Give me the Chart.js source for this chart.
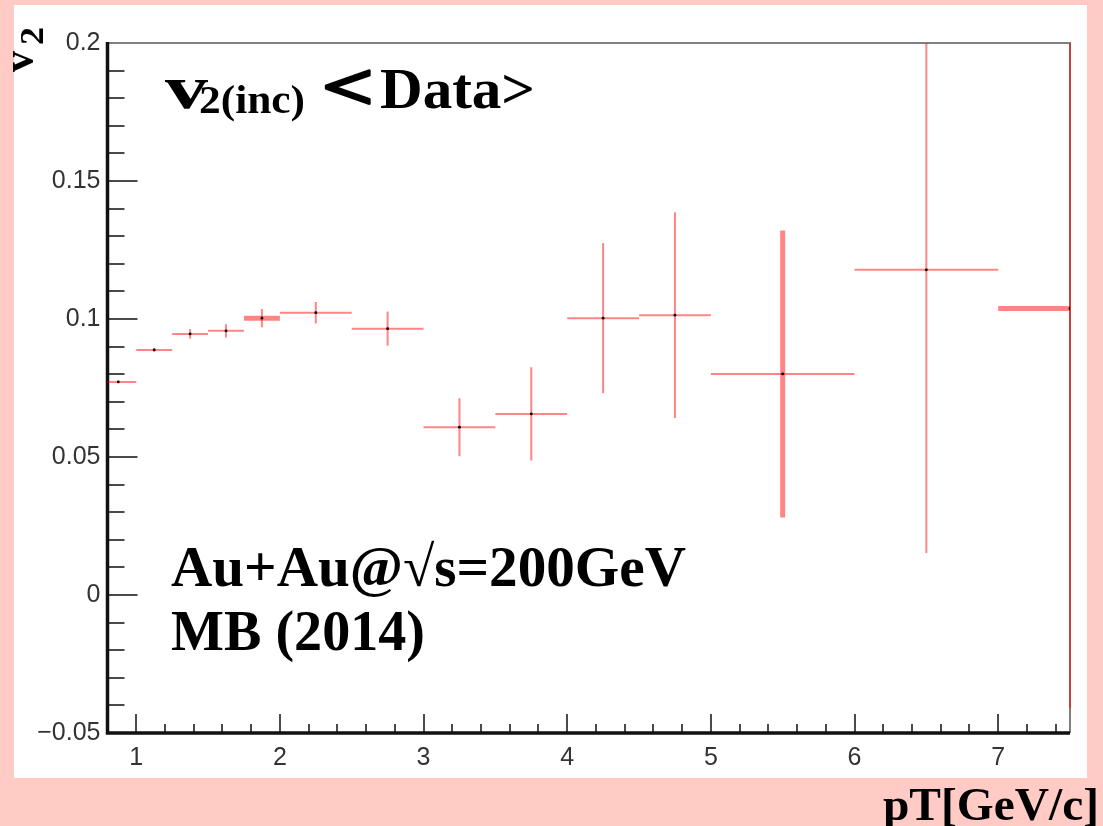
<!DOCTYPE html>
<html><head><meta charset="utf-8">
<script src="https://cdn.jsdelivr.net/npm/chart.js@4.4.1/dist/chart.umd.min.js"></script>
<style>html,body{margin:0;padding:0;background:#ffcbc4;overflow:hidden}canvas{display:block}</style>
</head><body>
<canvas id="c" width="1103" height="826"></canvas>
<script>
// ---- data ----
const ptCenters    = [0.875, 1.125, 1.375, 1.625, 1.875, 2.25, 2.75, 3.25, 3.75, 4.25, 4.75, 5.5, 6.5, 7.5];
const ptHalfWidths = [0.125, 0.125, 0.125, 0.125, 0.125, 0.25, 0.25, 0.25, 0.25, 0.25, 0.25, 0.5, 0.5, 0.5];
const v2Values     = [0.0772, 0.0888, 0.0946, 0.0957, 0.1003, 0.1023, 0.0965, 0.0608, 0.0656, 0.1003, 0.1014, 0.0801, 0.1178, 0.1038];
const v2Errors     = [0.0005, 0.0007, 0.0018, 0.0024, 0.0033, 0.0039, 0.0062, 0.0105, 0.0169, 0.0272, 0.0373, 0.0520, 0.1026, 0.1448];
const xTickLabels  = ['1', '2', '3', '4', '5', '6', '7'];
const yTickLabels  = ['\u22120.05', '0', '0.05', '0.1', '0.15', '0.2'];

// ---- styling (not data) ----
const RED = 'rgba(255,0,0,0.48)';
const thickH = new Set([4, 13]);
const thickV = new Set([11]);
const N = ptCenters.length;

const hData = [], vData = [], cData = [];
ptCenters.forEach((c, i) => {
  hData.push({x: c - ptHalfWidths[i], y: v2Values[i]}, {x: c + ptHalfWidths[i], y: v2Values[i]}, {x: c, y: null});
  cData.push({x: c, y: v2Values[i]});
});
for (let i = N - 1; i >= 0; i--) {
  const c = ptCenters[i];
  vData.push({x: c, y: v2Values[i] - v2Errors[i]}, {x: c, y: v2Values[i] + v2Errors[i]}, {x: c, y: null});
}

function drawFit(ctx, text, x, y, size, width, stroke) {
  ctx.font = 'bold ' + size + 'px "Liberation Serif"';
  const w = ctx.measureText(text).width;
  ctx.save();
  ctx.translate(x, y);
  ctx.scale(width ? width / w : 1, 1);
  ctx.fillText(text, 0, 0);
  if (stroke) { ctx.lineWidth = stroke; ctx.strokeStyle = ctx.fillStyle; ctx.lineJoin = 'round'; ctx.strokeText(text, 0, 0); }
  ctx.restore();
}

const deco = {
  id: 'deco',
  beforeDraw(chart) {
    const ctx = chart.ctx;
    ctx.save();
    ctx.fillStyle = '#ffcbc4';
    ctx.fillRect(0, 0, chart.width, chart.height);
    ctx.fillStyle = '#ffffff';
    ctx.fillRect(14, 5, 1073, 773);
    ctx.restore();
  },
  beforeDatasetsDraw(chart) {
    const ctx = chart.ctx, a = chart.chartArea;
    const xs = chart.scales.x, ys = chart.scales.y;
    ctx.save();
    ctx.strokeStyle = '#4a4a4a';
    ctx.lineWidth = 2;
    ctx.beginPath();
    const yStep = 0.01;
    for (let k = Math.ceil(ys.min / yStep - 1e-6); k * yStep <= ys.max + 1e-9; k++) {
      const v = k * yStep;
      const major = Math.abs(Math.round(v / 0.05) * 0.05 - v) < 1e-6;
      const py = Math.round(ys.getPixelForValue(v));
      ctx.moveTo(a.left, py);
      ctx.lineTo(a.left + (major ? 30 : 17), py);
    }
    const xStep = 0.2;
    for (let k = Math.ceil(xs.min / xStep - 1e-6); k * xStep <= xs.max + 1e-9; k++) {
      const v = k * xStep;
      const major = Math.abs(Math.round(v) - v) < 1e-6;
      const px = Math.round(xs.getPixelForValue(v));
      ctx.moveTo(px, a.bottom);
      ctx.lineTo(px, a.bottom - (major ? 19 : 9));
    }
    ctx.stroke();
    ctx.strokeStyle = '#808080';
    ctx.lineWidth = 2;
    ctx.beginPath();
    ctx.moveTo(a.left, a.top); ctx.lineTo(a.right, a.top); ctx.lineTo(a.right, a.bottom);
    ctx.stroke();
    ctx.strokeStyle = '#111';
    ctx.lineWidth = 3.5;
    ctx.beginPath();
    ctx.moveTo(a.left, a.top - 1); ctx.lineTo(a.left, a.bottom); ctx.lineTo(a.right, a.bottom);
    ctx.stroke();
    ctx.restore();
  },
  afterDraw(chart) {
    const ctx = chart.ctx;
    ctx.save();
    ctx.fillStyle = '#000';
    ctx.textBaseline = 'alphabetic';
    ctx.textAlign = 'left';
    drawFit(ctx, 'v', 165, 108, 62, 43);
    drawFit(ctx, '2(inc)', 199, 113, 40, 106);
    drawFit(ctx, '<', 322, 109, 66, 52, 2.5);
    drawFit(ctx, 'Data>', 380, 108, 56, 155);
    drawFit(ctx, 'Au+Au@\u221As=200GeV', 171, 586, 57, 515);
    drawFit(ctx, 'MB (2014)', 171, 650, 57, 254);
    drawFit(ctx, 'pT[GeV/c]', 883, 820, 47, 216);
    ctx.save();
    ctx.translate(33, 72);
    ctx.rotate(-Math.PI / 2);
    drawFit(ctx, 'v', 0, 0, 45, 21);
    drawFit(ctx, '2', 27, 10, 34, 18);
    ctx.restore();
    ctx.restore();
  }
};

new Chart(document.getElementById('c'), {
  data: {
    datasets: [
      {type: 'scatter', data: cData, pointRadius: 1.4, pointBackgroundColor: '#000', pointBorderWidth: 0, showLine: false},
      {type: 'line', data: vData, borderColor: RED, borderWidth: 2, pointRadius: 0, spanGaps: false, tension: 0,
       clip: {left: 3, top: 0, right: 3, bottom: 0},
       segment: {borderWidth: ctx => thickV.has(N - 1 - Math.floor(ctx.p0DataIndex / 3)) ? 5 : 2}},
      {type: 'line', data: hData, borderColor: RED, borderWidth: 2, pointRadius: 0, spanGaps: false, tension: 0,
       clip: {left: 0, top: 0, right: 0, bottom: 0},
       segment: {borderWidth: ctx => thickH.has(Math.floor(ctx.p0DataIndex / 3)) ? 5 : 2}}
    ]
  },
  options: {
    responsive: false,
    animation: false,
    devicePixelRatio: 1,
    layout: {padding: {left: 0, top: 43, right: 33, bottom: 0}},
    plugins: {legend: {display: false}, tooltip: {enabled: false}},
    scales: {
      x: {
        type: 'linear', min: 0.8, max: 7.5,
        grid: {display: false, drawTicks: false},
        border: {display: false},
        ticks: {
          stepSize: 1, includeBounds: false, autoSkip: false, maxRotation: 0, padding: 10,
          color: '#333', font: {family: 'Liberation Sans', size: 25},
          callback: v => xTickLabels[Math.round(v) - 1] ?? ''
        },
        afterFit: s => { s.height = 93; }
      },
      y: {
        type: 'linear', min: -0.05, max: 0.2,
        grid: {display: false, drawTicks: false},
        border: {display: false},
        ticks: {
          stepSize: 0.05, autoSkip: false, padding: 7,
          color: '#333', font: {family: 'Liberation Sans', size: 25},
          callback: v => yTickLabels[Math.round((v + 0.05) / 0.05)] ?? ''
        },
        afterFit: s => { s.width = 107.5; }
      }
    }
  },
  plugins: [deco]
});
</script>
</body></html>
